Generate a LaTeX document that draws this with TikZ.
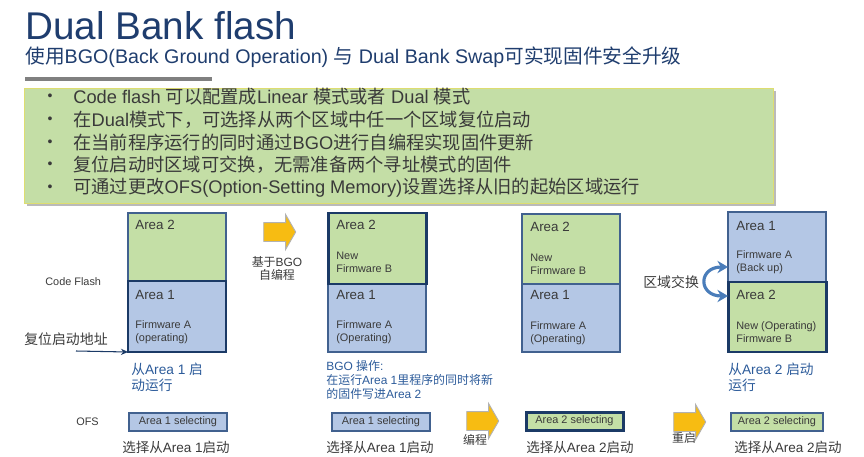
\documentclass[tikz,border=0pt]{standalone}
\usepackage{fontspec}
\setmainfont{Liberation Sans}
\newfontfamily\cjk{Noto Sans CJK SC}
\newcommand\zh[1]{{\cjk #1}}
\usetikzlibrary{arrows.meta, shapes.arrows, shadows, positioning}

\definecolor{titleblue}{HTML}{1F3D6E}
\definecolor{txtgray}{HTML}{3A3A3A}
\definecolor{notegreen}{HTML}{C4DEA6}
\definecolor{noteedge}{HTML}{DEDD70}
\definecolor{areagreen}{HTML}{C4DFA6}
\definecolor{areablue}{HTML}{B4C7E5}
\definecolor{boxline}{HTML}{41618F}
\definecolor{navyline}{HTML}{1B3A66}
\definecolor{annoblue}{HTML}{2C5B9A}
\definecolor{goldfill}{HTML}{F7BC12}
\definecolor{swapblue}{HTML}{4A7DBA}

\tikzset{
  bank/.style={draw=boxline, line width=0.6pt, anchor=north west, inner sep=0pt, outer sep=0pt, minimum width=98*0.02cm},
  oldfw/.style={bank, fill=areablue},
  newfw/.style={bank, fill=areagreen},
  running/.style={draw=navyline, line width=1.7pt},
  arealbl/.style={anchor=west, inner sep=0pt, text=txtgray, font=\fontsize{7.6}{9}\selectfont},
  fwlbl/.style={anchor=west, inner sep=0pt, align=left, text=txtgray, font=\fontsize{6.2}{7.4}\selectfont},
  annot/.style={anchor=west, inner sep=0pt, align=left, text=annoblue, font=\fontsize{7.8}{9.1}\selectfont},
  smalltxt/.style={inner sep=0pt, align=center, text=txtgray, font=\fontsize{6.8}{7.4}\selectfont},
  ofsbox/.style={bank, anchor=west, minimum height=18*0.02cm, text=txtgray, font=\fontsize{6.2}{7}\selectfont},
  seltxt/.style={inner sep=0pt, text=txtgray, font=\fontsize{7.7}{9}\selectfont},
  goarrow/.style={single arrow, draw=black!30, fill=goldfill, line width=0.5pt,
    minimum height=32*0.02cm, inner xsep=0pt, inner ysep=9*0.02cm,
    single arrow head extend=8*0.02cm, single arrow tip angle=120}
}

\begin{document}
\begin{tikzpicture}[x=0.02cm, y=-0.02cm]
  \def\pxu{0.02cm}
  \useasboundingbox (0,0) rectangle (864,456);

  % --- titulo ---
  \node[anchor=base west, inner sep=0pt, text=titleblue, font=\fontsize{22}{24}\selectfont] (title) at (25,40) {Dual Bank flash};
  \node[anchor=base west, inner sep=0pt, text=titleblue, font=\fontsize{11.2}{13}\selectfont] (subtitle) at (25,64)
    {\zh{使用}BGO(Back Ground Operation) \zh{与} Dual Bank Swap\zh{可实现固件安全升级}};
  \draw[line width=1.9pt, black!50] (25,79) -- (212,79);

  % --- caixa de notas ---
  \node[anchor=north west, draw=noteedge, fill=notegreen, line width=0.8pt, inner sep=0pt,
    minimum width=749*\pxu, minimum height=115*\pxu,
    drop shadow={shadow xshift=1.2pt, shadow yshift=-1.2pt, fill=black!45, opacity=0.6}] (notes) at (24,88) {};
  \foreach \y/\t in {97/{Code flash \zh{可以配置成}Linear \zh{模式或者} Dual \zh{模式}},
                     120/{\zh{在}Dual\zh{模式下，可选择从两个区域中任一个区域复位启动}},
                     143/{\zh{在当前程序运行的同时通过}BGO\zh{进行自编程实现固件更新}},
                     165/{\zh{复位启动时区域可交换，无需准备两个寻址模式的固件}},
                     188/{\zh{可通过更改}OFS(Option-Setting Memory)\zh{设置选择从旧的起始区域运行}}} {
    \node[inner sep=0pt, text=txtgray, font=\fontsize{8}{9}\selectfont] (dot\y) at (50,\y) {\textbullet};
    \node[anchor=west, inner sep=0pt, text=txtgray, font=\fontsize{10.4}{12}\selectfont] (item\y) at (73,\y) {\t};
  }

  % --- estado 1: roda Area 1 ---
  \node[fwlbl] (cflash) at (45,282) {Code Flash};
  \node[newfw, minimum height=68*\pxu] (c1a2) at (128,213) {};
  \node[oldfw, running, minimum height=71*\pxu] (c1a1) at (128,281) {};
  \node[arealbl] (c1n2) at (135,225) {Area 2};
  \node[arealbl] (c1n1) at (135,295) {Area 1};
  \node[fwlbl] (c1f1) at (135,332) {Firmware A\\(operating)};
  \node[anchor=west, inner sep=0pt, text=txtgray, font=\fontsize{7.9}{9}\selectfont] (rstlbl) at (24,339) {\zh{复位启动地址}};
  \coordinate (rst) at (76,351);
  \draw[-{Stealth[length=4pt, width=3.5pt]}, navyline, line width=0.6pt] (rst) -- (c1a1.south west);
  \node[annot] (run1) at (131,377) {\zh{从}Area 1 \zh{启}\\\zh{动运行}};

  % --- BGO ---
  \node[goarrow] (p1) at (277,232) {};
  \node[smalltxt] (p1t) at (277,268) {\zh{基于}BGO\\\zh{自编程}};

  % --- estado 2: grava Area 2 ---
  \node[oldfw, minimum height=68*\pxu] (c2a1) at (328,284) {};
  \node[newfw, running, minimum height=71*\pxu] (c2a2) at (328,213) {};
  \node[arealbl] (c2n2) at (336,225) {Area 2};
  \node[fwlbl] (c2f2) at (336,262) {New\\Firmware B};
  \node[arealbl] (c2n1) at (336,295) {Area 1};
  \node[fwlbl] (c2f1) at (336,332) {Firmware A\\(Operating)};
  \node[annot, font=\fontsize{6.8}{7.9}\selectfont] (bgo) at (326,380)
    {BGO \zh{操作}:\\\zh{在运行}Area 1\zh{里程序的同时将新}\\\zh{的固件写进}Area 2};

  % --- estado 3 ---
  \node[newfw, minimum height=70*\pxu] (c3a2) at (522,214) {};
  \node[oldfw, minimum height=68*\pxu] (c3a1) at (522,284) {};
  \node[arealbl] (c3n2) at (530,227) {Area 2};
  \node[fwlbl] (c3f2) at (530,264) {New\\Firmware B};
  \node[arealbl] (c3n1) at (530,295) {Area 1};
  \node[fwlbl] (c3f1) at (530,333) {Firmware A\\(Operating)};

  % --- estado 4: troca ---
  \node[oldfw, minimum height=70*\pxu] (c4a1) at (728,212) {};
  \node[newfw, running, minimum height=70*\pxu] (c4a2) at (728,282) {};
  \node[arealbl] (c4n1) at (736,226) {Area 1};
  \node[fwlbl] (c4f1) at (736,262) {Firmware A\\(Back up)};
  \node[arealbl] (c4n2) at (736,295) {Area 2};
  \node[fwlbl] (c4f2) at (736,332) {New (Operating)\\Firmware B};
  \node[anchor=west, inner sep=0pt, text=txtgray, font=\fontsize{7.9}{9}\selectfont] (swaplbl) at (643,282) {\zh{区域交换}};
  \draw[{Stealth[length=6pt, width=7pt]}-{Stealth[length=6pt, width=7pt]}, swapblue, line width=1.8pt]
    ([yshift=15*\pxu]c4a1.south west) .. controls +(-30*\pxu,0) and +(-30*\pxu,0) .. ([yshift=-14*\pxu]c4a2.north west);
  \node[annot] (run4) at (728,377) {\zh{从}Area 2 \zh{启动}\\\zh{运行}};

  % --- OFS ---
  \node[fwlbl] (ofs) at (76,422) {OFS};
  \node[ofsbox, fill=areablue] (s1) at (129,422) {Area 1 selecting};
  \node[ofsbox, fill=areablue] (s2) at (332,422) {Area 1 selecting};
  \node[ofsbox, fill=areagreen, running, minimum width=97*\pxu] (s3) at (526,421) {Area 2 selecting};
  \node[ofsbox, fill=areagreen, minimum width=92*\pxu] (s4) at (731,422) {Area 2 selecting};
  \node[seltxt] (s1t) at (176,447) {\zh{选择从}Area 1\zh{启动}};
  \node[seltxt] (s2t) at (380,447) {\zh{选择从}Area 1\zh{启动}};
  \node[seltxt] (s3t) at (580,447) {\zh{选择从}Area 2\zh{启动}};
  \node[seltxt] (s4t) at (788,447) {\zh{选择从}Area 2\zh{启动}};
  \node[goarrow] (p2) at (480,421) {};
  \node[smalltxt] (p2t) at (475,440) {\zh{编程}};
  \node[goarrow] (p3) at (687,422) {};
  \node[smalltxt] (p3t) at (684,438) {\zh{重启}};
\end{tikzpicture}
\end{document}
